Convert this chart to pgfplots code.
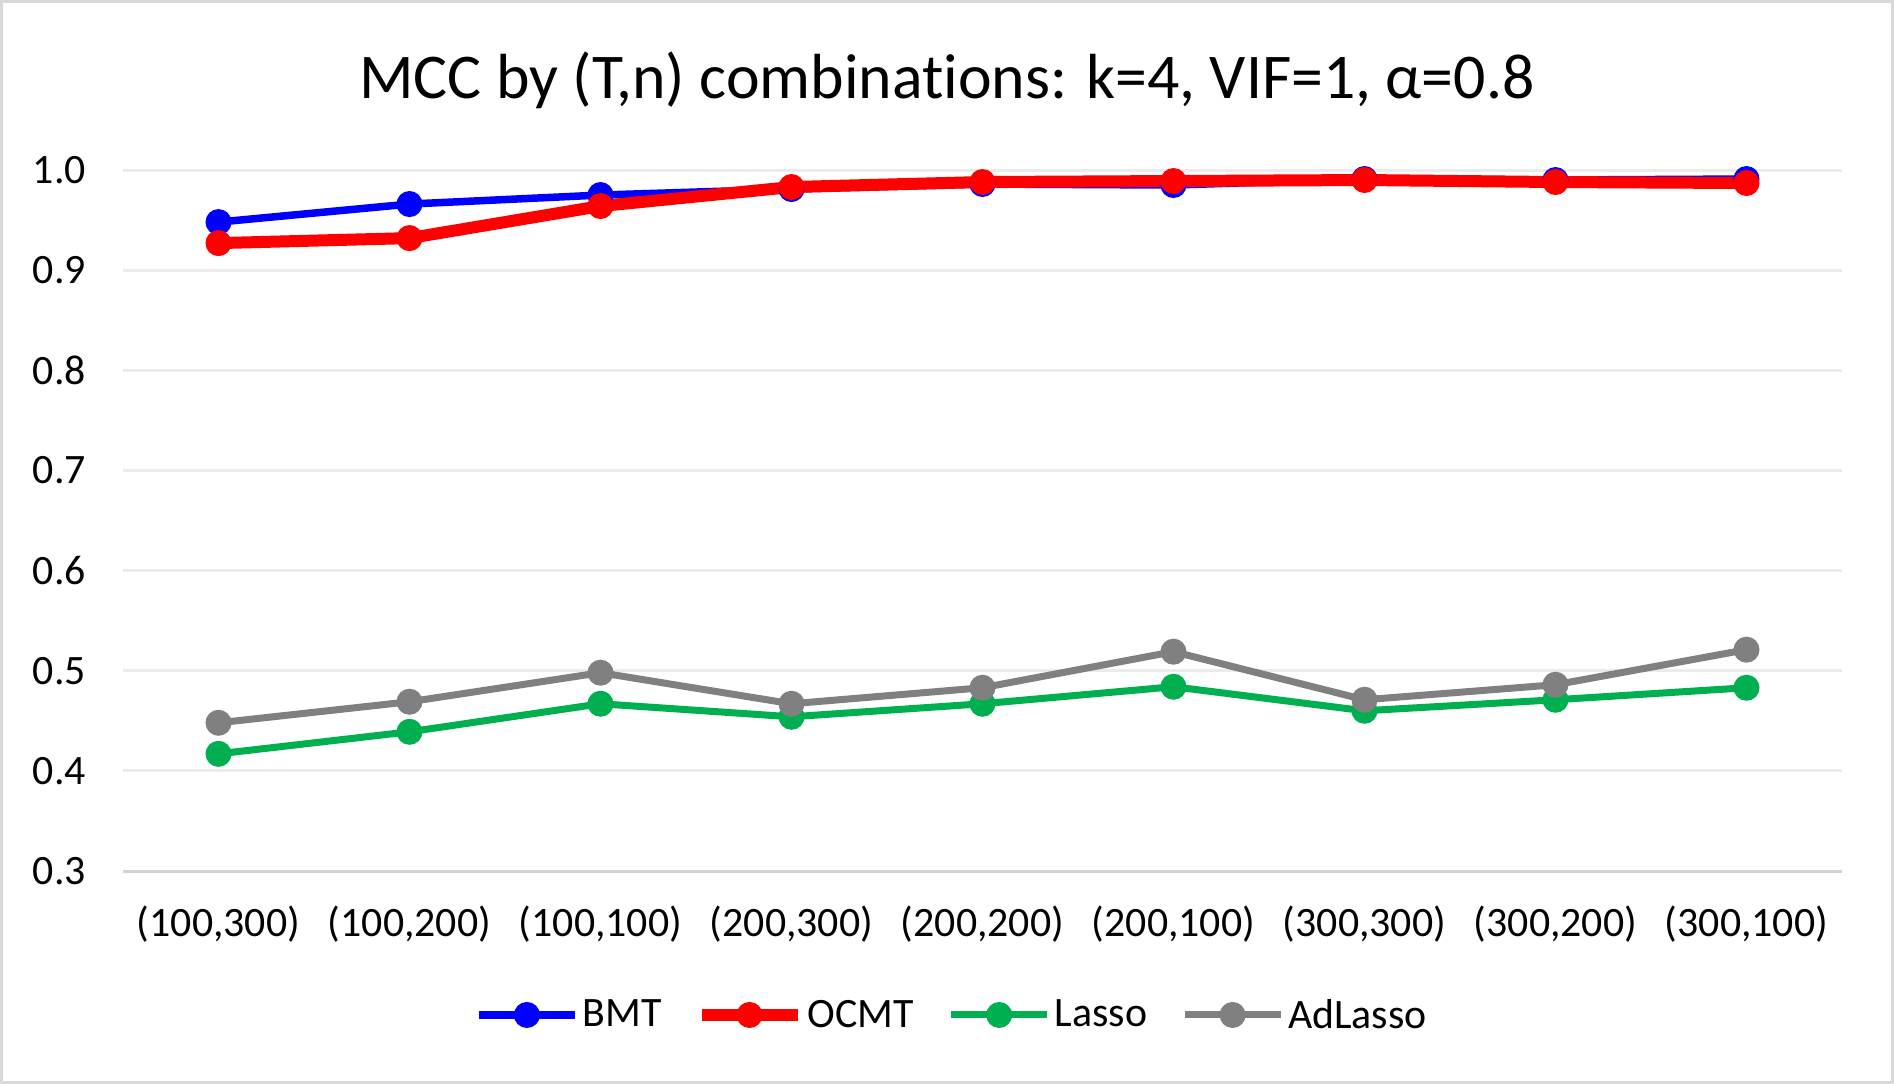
\documentclass[border=0pt]{standalone}
\usepackage{fontspec}
\setmainfont{Carlito}[Ligatures=NoCommon]
\usepackage{pgfplots}
\pgfplotsset{compat=1.18}

\definecolor{bmtblue}{RGB}{0,0,255}
\definecolor{ocmtred}{RGB}{255,0,0}
\definecolor{lassogreen}{RGB}{0,176,80}
\definecolor{adgray}{RGB}{128,128,128}
\definecolor{gridgray}{RGB}{235,235,235}
\definecolor{axisgray}{RGB}{210,210,210}
\definecolor{framegray}{RGB}{217,217,217}

\begin{document}
\begin{tikzpicture}
\path[use as bounding box] (0,0) rectangle (947bp,542bp);
\draw[framegray, line width=1.5bp] (0.75bp,0.75bp) rectangle (946.25bp,541.25bp);
\node[font=\fontsize{32}{38}\selectfont] at (473.5bp,502bp) {MCC by (T,n) combinations: k=4, VIF=1, α=0.8};
\begin{axis}[
  at={(61.5bp,106.5bp)}, anchor=south west,
  scale only axis, width=859.5bp, height=350.5bp,
  xmin=-0.5, xmax=8.5, ymin=0.3, ymax=1.0,
  xtick={0,...,8},
  xticklabels={{(100,300)},{(100,200)},{(100,100)},{(200,300)},{(200,200)},{(200,100)},{(300,300)},{(300,200)},{(300,100)}},
  ytick={0.3,0.4,0.5,0.6,0.7,0.8,0.9,1.0},
  /pgf/number format/fixed,
  /pgf/number format/fixed zerofill,
  /pgf/number format/precision=1,
  /pgf/number format/assume math mode=true,
  tick label style={font=\fontsize{21}{25}\selectfont},
  xticklabel style={yshift=-14bp},
  yticklabel style={xshift=-15bp},
  major tick length=0,
  axis x line*=bottom,
  axis y line*=left,
  y axis line style={draw=none},
  x axis line style={axisgray, line width=1.5bp, -},
  ymajorgrids,
  grid style={gridgray, line width=1.5bp},
  clip=false,
  legend columns=4,
  legend style={at={(0.4828,-0.2054)}, anchor=center, draw=none,
    font=\fontsize{21}{25}\selectfont,
    /tikz/every even column/.append style={column sep=15bp},
    /tikz/every odd column/.append style={column sep=0bp}},
  legend image code/.code={\draw[#1, mark repeat=2, mark phase=2] plot coordinates {(0bp,0bp) (24bp,0bp) (48bp,0bp)};},
]
\addplot[bmtblue, line width=3.75bp, mark=*, mark size=6bp, mark options={solid, line width=1bp}] coordinates {
  (0,0.948) (1,0.966) (2,0.975) (3,0.981) (4,0.986) (5,0.985) (6,0.991) (7,0.990) (8,0.991)};
\addlegendentry{BMT}
\addplot[ocmtred, line width=6bp, mark=*, mark size=6bp, mark options={solid, line width=1bp}] coordinates {
  (0,0.927) (1,0.932) (2,0.964) (3,0.983) (4,0.988) (5,0.989) (6,0.990) (7,0.988) (8,0.987)};
\addlegendentry{OCMT}
\addplot[lassogreen, line width=3.5bp, mark=*, mark size=6bp, mark options={solid, line width=1bp}] coordinates {
  (0,0.417) (1,0.439) (2,0.467) (3,0.454) (4,0.467) (5,0.484) (6,0.460) (7,0.471) (8,0.483)};
\addlegendentry{Lasso}
\addplot[adgray, line width=3.5bp, mark=*, mark size=6bp, mark options={solid, line width=1bp}] coordinates {
  (0,0.448) (1,0.469) (2,0.498) (3,0.467) (4,0.483) (5,0.519) (6,0.471) (7,0.486) (8,0.521)};
\addlegendentry{AdLasso}
\end{axis}
\end{tikzpicture}
\end{document}
